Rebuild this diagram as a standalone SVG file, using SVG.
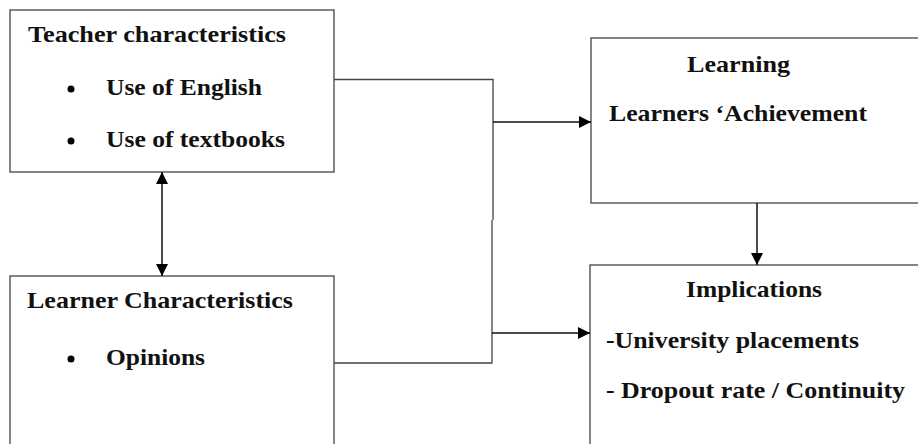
<svg xmlns="http://www.w3.org/2000/svg" width="918" height="444" viewBox="0 0 918 444">
<style>
.box{fill:#fff;stroke:#444;stroke-width:1.3}
.t{font-family:"Liberation Serif","Times New Roman",serif;font-weight:bold;font-size:24px;fill:#111}
.ln{stroke:#444;stroke-width:1.3;fill:none}
.ar{stroke:#111;stroke-width:1.5;fill:none}
</style>
<defs>
<marker id="ah" viewBox="0 0 10 10" refX="10" refY="5" markerWidth="12" markerHeight="12" markerUnits="userSpaceOnUse" orient="auto-start-reverse">
<path d="M0,0 L10,5 L0,10 z" fill="#000"/>
</marker>
</defs>
<rect width="918" height="444" fill="#fff"/>
<g id="teacher">
<rect class="box" x="10" y="10" width="324" height="162"/>
<text class="t" x="28" y="42" textLength="258" lengthAdjust="spacingAndGlyphs">Teacher characteristics</text>
<circle cx="71" cy="89" r="3.5" fill="#000"/>
<text class="t" x="106" y="95" textLength="156" lengthAdjust="spacingAndGlyphs">Use of English</text>
<circle cx="71" cy="141" r="3.5" fill="#000"/>
<text class="t" x="106" y="147" textLength="179" lengthAdjust="spacingAndGlyphs">Use of textbooks</text>
</g>
<g id="learner">
<rect class="box" x="10" y="276" width="324" height="180"/>
<text class="t" x="27" y="308" textLength="266" lengthAdjust="spacingAndGlyphs">Learner Characteristics</text>
<circle cx="71" cy="359" r="3.5" fill="#000"/>
<text class="t" x="106" y="365" textLength="99" lengthAdjust="spacingAndGlyphs">Opinions</text>
</g>
<g id="learning">
<rect class="box" x="591" y="38" width="340" height="165"/>
<text class="t" x="687" y="72" textLength="103" lengthAdjust="spacingAndGlyphs">Learning</text>
<text class="t" x="609" y="121" textLength="258" lengthAdjust="spacingAndGlyphs">Learners ‘Achievement</text>
</g>
<g id="implications">
<rect class="box" x="590" y="265" width="340" height="190"/>
<text class="t" x="686" y="297" textLength="136" lengthAdjust="spacingAndGlyphs">Implications</text>
<text class="t" x="606" y="348" textLength="253" lengthAdjust="spacingAndGlyphs">-University placements</text>
<text class="t" x="606" y="398" textLength="299" lengthAdjust="spacingAndGlyphs">- Dropout rate / Continuity</text>
</g>
<g id="connectors">
<polyline class="ln" points="334,79.5 493,79.5 493,220"/>
<polyline class="ln" points="334,363 492,363 492,220"/>
<line class="ar" x1="493" y1="122" x2="591" y2="122" marker-end="url(#ah)"/>
<line class="ar" x1="492" y1="333" x2="590" y2="333" marker-end="url(#ah)"/>
<line class="ar" x1="162" y1="172" x2="162" y2="276" marker-start="url(#ah)" marker-end="url(#ah)"/>
<line class="ar" x1="757" y1="203" x2="757" y2="265" marker-end="url(#ah)"/>
</g>
</svg>
